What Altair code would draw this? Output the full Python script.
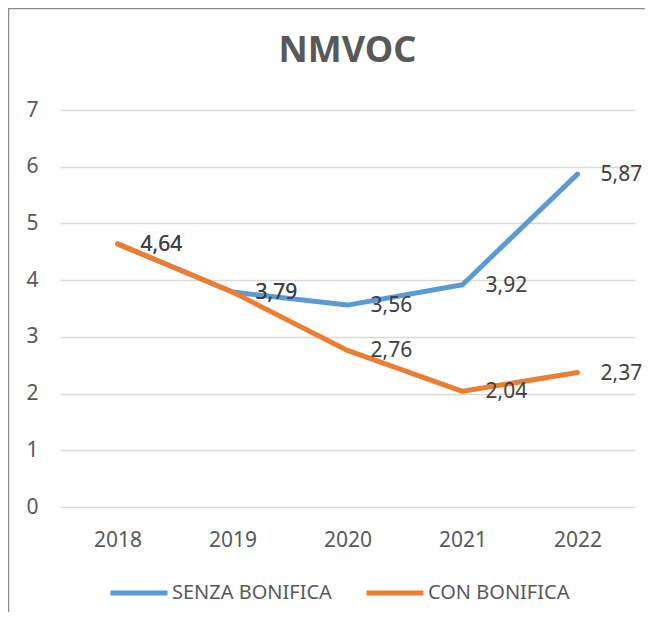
import altair as alt
import pandas as pd

years = ["2018", "2019", "2020", "2021", "2022"]
senza = [4.64, 3.79, 3.56, 3.92, 5.87]
con = [4.64, 3.79, 2.76, 2.04, 2.37]
series_names = ["SENZA BONIFICA", "CON BONIFICA"]
series_colors = ["#5B9BD5", "#ED7D31"]
y_ticks = [0, 1, 2, 3, 4, 5, 6, 7]

rows = []
for s, vals in zip(series_names, [senza, con]):
    for y, v in zip(years, vals):
        rows.append({"anno": y, "valore": v, "serie": s,
                     "etichetta": f"{v:.2f}".replace(".", ",")})
df = pd.DataFrame(rows)

FONT = "Noto Sans"

x_enc = alt.X("anno:O", sort=years, title=None,
              scale=alt.Scale(domain=years),
              axis=alt.Axis(labelAngle=0, labelFontSize=21, labelColor="#595959",
                            labelFont=FONT, ticks=False, tickSize=0, domain=False,
                            grid=False, labelPadding=22))
y_enc = alt.Y("valore:Q", title=None,
              scale=alt.Scale(domain=[0, 7], nice=False, zero=True),
              axis=alt.Axis(values=y_ticks, labelFontSize=21, labelColor="#595959",
                            labelFont=FONT, ticks=False, tickSize=0, domain=False,
                            grid=True, gridColor="#D9D9D9", gridWidth=1.3,
                            labelPadding=22, format="d"))
color_enc = alt.Color("serie:N", title=None,
                      scale=alt.Scale(domain=series_names, range=series_colors),
                      legend=alt.Legend(orient="none", legendX=48, legendY=452,
                                        direction="horizontal",
                                        symbolType="stroke", symbolSize=3249,
                                        symbolStrokeWidth=5,
                                        labelFontSize=20, labelColor="#595959",
                                        labelFont=FONT, labelOffset=2,
                                        columnPadding=24, padding=0))

base = alt.Chart(df)

line_senza = base.transform_filter(alt.datum.serie == "SENZA BONIFICA").mark_line(
    strokeWidth=5, strokeCap="round", strokeJoin="round").encode(
    x=x_enc, y=y_enc, color=color_enc)
line_con = base.transform_filter(alt.datum.serie == "CON BONIFICA").mark_line(
    strokeWidth=5, strokeCap="round", strokeJoin="round").encode(
    x=x_enc, y=y_enc, color=color_enc)

labels = base.mark_text(align="left", baseline="middle", dx=23, dy=1,
                        fontSize=21, font=FONT, color="#404040").encode(
    x=x_enc, y=y_enc, text="etichetta:N")

frame_left = alt.Chart(pd.DataFrame({"a": [0]})).mark_rule(
    color="#8C8C8C", strokeWidth=1.5).encode(
    x=alt.value(-51.5), y=alt.value(-102), y2=alt.value(520))
frame_top = alt.Chart(pd.DataFrame({"a": [0]})).mark_rule(
    color="#8C8C8C", strokeWidth=1.5).encode(
    x=alt.value(-52), x2=alt.value(585), y=alt.value(-101.5))

chart = alt.layer(line_senza, line_con, labels, frame_left, frame_top).properties(
    width=575, height=397,
    title=alt.TitleParams(text="NMVOC", fontSize=36, fontWeight="bold",
                          color="#595959", font=FONT, anchor="middle",
                          baseline="alphabetic", offset=-91),
    padding={"left": 52, "top": 102, "right": 10, "bottom": 105},
    autosize=alt.AutoSizeParams(type="none"),
    background="white",
).configure_view(stroke=None)

chart.save("out.html", embed_options={"renderer": "svg", "actions": False})
